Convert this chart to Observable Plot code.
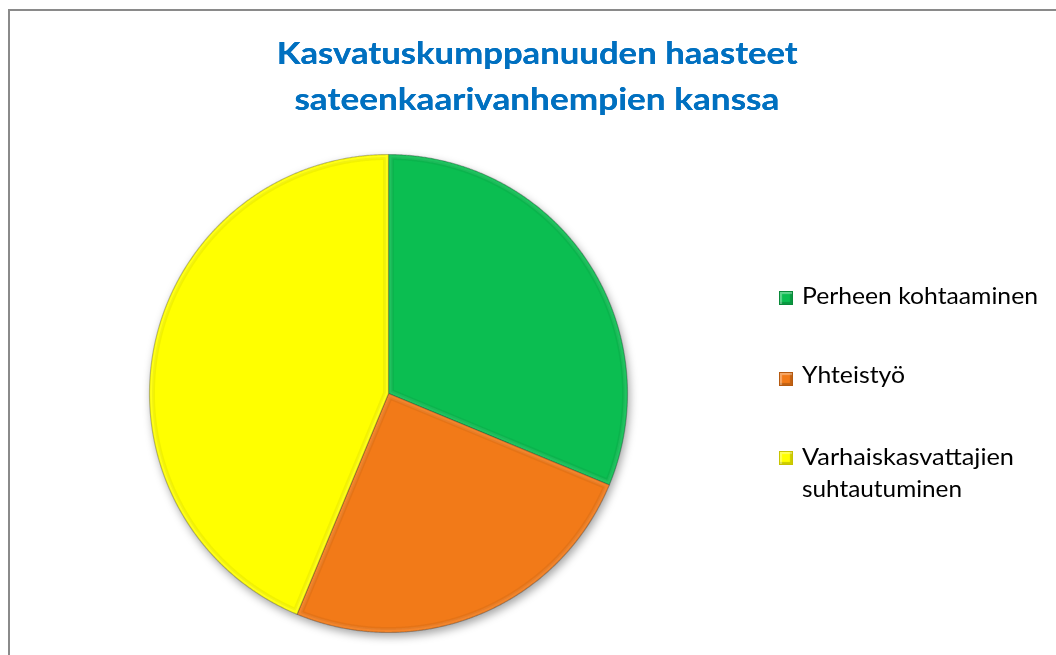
<!DOCTYPE html>
<html><head><meta charset="utf-8">
<script src="https://cdn.jsdelivr.net/npm/d3@7"></script>
<script src="https://cdn.jsdelivr.net/npm/@observablehq/plot@0.6"></script>
<style>
body{margin:0;background:#fff;}
#wrap{position:relative;width:1056px;height:655px;overflow:hidden;background:#fff;font-family:Lato,"Open Sans",sans-serif;}
#frame{position:absolute;left:8px;top:9px;width:1200px;height:800px;border-left:2px solid #8a8a8a;border-top:2px solid #8a8a8a;}
.tl{position:absolute;left:0;width:1074px;text-align:center;color:#0070C0;font-weight:bold;font-size:30px;line-height:46px;white-space:nowrap;text-shadow:0 0 0.5px #0070C0;}
.tl span{display:inline-block;transform-origin:center;}
#pie{position:absolute;left:138px;top:143px;}
#pie svg{filter:drop-shadow(2px 4px 4px rgba(0,0,0,0.35));overflow:visible;}
.lg{position:absolute;left:802px;font-size:24px;line-height:32px;color:#000;white-space:nowrap;}
.lg span{display:inline-block;transform-origin:left;}
.sw{position:absolute;left:779px;width:14px;height:14px;box-sizing:border-box;}
</style></head>
<body><div id="wrap">
<div id="frame"></div>
<div class="tl" style="top:29px"><span data-w="521">Kasvatuskumppanuuden haasteet</span></div>
<div class="tl" style="top:75px"><span data-w="485">sateenkaarivanhempien kanssa</span></div>
<div id="pie"></div>
<div id="legend"></div>
</div>
<script>
const categories = ["Perheen kohtaaminen", "Yhteistyö", "Varhaiskasvattajien suhtautuminen"];
const values = [5, 4, 7];
const legendLines = [["Perheen kohtaaminen"], ["Yhteistyö"], ["Varhaiskasvattajien", "suhtautuminen"]];
const palette = ["#0BBE51", "#F27A18", "#FFFF00"];
const edges = ["#0A8A3A", "#B65A10", "#C8C400"];

// pie geometry from the values (full sectors and slightly inset sectors for a bevel look)
const arcs = d3.pie().sort(null).value(d => d)(values);
const R = 250 / 239;          // domain half-extent: radius 1 = 239 px
const inset = 4 / 239;
function sector(a, i, d) {
  const out = [];
  const h = (a.endAngle - a.startAngle) / 2, mid = a.startAngle + h;
  const v = d > 0 ? d / Math.sin(Math.min(h, Math.PI / 2)) : 0;
  const r = 1 - d, off = Math.asin(d / r);
  const a0 = a.startAngle + off, a1 = a.endAngle - off;
  const n = Math.max(2, Math.ceil((a1 - a0) / 0.005));
  out.push({k: categories[i], x: v * Math.sin(mid), y: v * Math.cos(mid)});
  for (let j = 0; j <= n; j++) {
    const t = a0 + (a1 - a0) * j / n;
    out.push({k: categories[i], x: r * Math.sin(t), y: r * Math.cos(t)});
  }
  out.push({k: categories[i], x: v * Math.sin(mid), y: v * Math.cos(mid)});
  return out;
}
const full = arcs.flatMap((a, i) => sector(a, i, 0));
const inner = arcs.flatMap((a, i) => sector(a, i, inset));

const chart = Plot.plot({
  width: 500, height: 500, margin: 0,
  x: {domain: [-R, R], axis: null},
  y: {domain: [-R, R], axis: null},
  color: {domain: categories, range: palette},
  marks: [
    Plot.line(full, {x: "x", y: "y", z: "k", fill: "k", stroke: "rgba(0,0,0,0.25)", strokeWidth: 1.2, strokeLinejoin: "round"}),
    Plot.line(full, {x: "x", y: "y", z: "k", fill: "white", fillOpacity: 0.08, stroke: "none"}),
    Plot.line(inner, {x: "x", y: "y", z: "k", fill: "k", stroke: "rgba(0,0,0,0.05)", strokeWidth: 3, strokeLinejoin: "round"})
  ]
});
document.getElementById("pie").appendChild(chart);

// legend
const legend = document.getElementById("legend");
const rowTops = [279, 358, 440];
const swTops = [291, 372, 451];
legendLines.forEach((lines, i) => {
  const sw = document.createElement("div");
  sw.className = "sw";
  sw.style.top = swTops[i] + "px";
  sw.style.background = palette[i];
  sw.style.border = "1px solid " + edges[i];
  sw.style.boxShadow = "inset 2px 2px 1px rgba(255,255,255,0.35), inset -2px -2px 1px rgba(0,0,0,0.2)";
  legend.appendChild(sw);
  lines.forEach((t, j) => {
    const d = document.createElement("div");
    d.className = "lg";
    d.style.top = (rowTops[i] + j * 32) + "px";
    const s = document.createElement("span");
    s.textContent = t;
    d.appendChild(s);
    legend.appendChild(d);
  });
});
// fit widths of text (Calibri substitute)
const legendWidths = {"Perheen kohtaaminen": 236, "Yhteistyö": 103, "Varhaiskasvattajien": 212, "suhtautuminen": 160};
document.querySelectorAll(".lg span").forEach(s => {
  const w = legendWidths[s.textContent];
  if (w) s.style.transform = `scaleX(${w / s.getBoundingClientRect().width})`;
});
document.querySelectorAll(".tl span").forEach(s => {
  const w = +s.dataset.w;
  s.style.transform = `scaleX(${w / s.getBoundingClientRect().width})`;
});
</script>
</body></html>
